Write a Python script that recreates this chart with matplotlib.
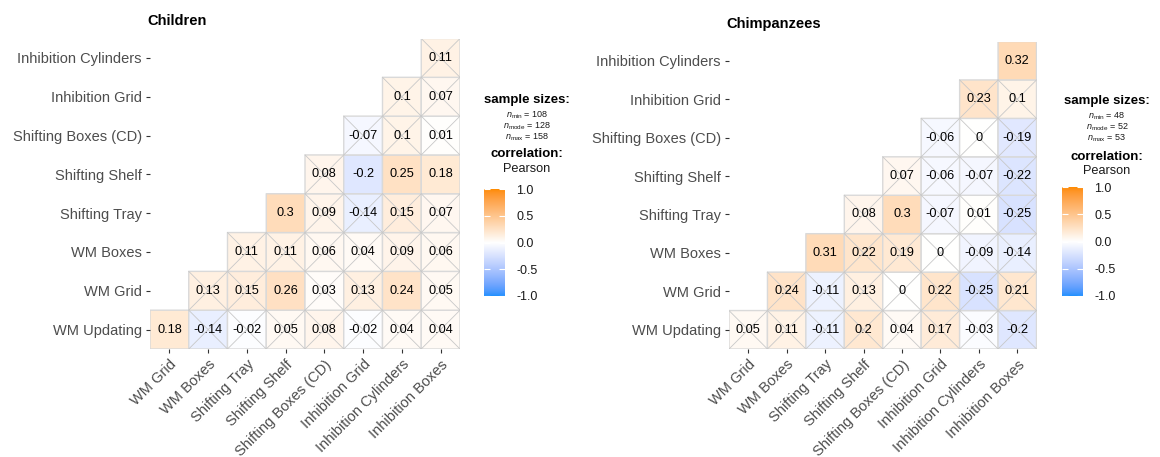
import numpy as np
import matplotlib.pyplot as plt
from matplotlib.colors import ListedColormap, to_rgb

plt.rcParams['font.family'] = ['Liberation Sans', 'DejaVu Sans']
plt.rcParams['mathtext.fontset'] = 'custom'
plt.rcParams['mathtext.rm'] = 'Liberation Sans'
plt.rcParams['mathtext.it'] = 'Liberation Sans:italic'

# ---------------- data ----------------
row_labels = ["WM Updating", "WM Grid", "WM Boxes", "Shifting Tray", "Shifting Shelf",
              "Shifting Boxes (CD)", "Inhibition Grid", "Inhibition Cylinders"]
col_labels = ["WM Grid", "WM Boxes", "Shifting Tray", "Shifting Shelf",
              "Shifting Boxes (CD)", "Inhibition Grid", "Inhibition Cylinders", "Inhibition Boxes"]

# lower triangle, one list per row variable (columns from the diagonal onwards)
children_r = [
    [0.18, -0.14, -0.02, 0.05, 0.08, -0.02, 0.04, 0.04],
    [0.13, 0.15, 0.26, 0.03, 0.13, 0.24, 0.05],
    [0.11, 0.11, 0.06, 0.04, 0.09, 0.06],
    [0.3, 0.09, -0.14, 0.15, 0.07],
    [0.08, -0.2, 0.25, 0.18],
    [-0.07, 0.1, 0.01],
    [0.1, 0.07],
    [0.11],
]
# 1 = significant (p < .05), 0 = crossed out
children_sig = [
    [1, 0, 0, 0, 0, 0, 0, 0],
    [0, 0, 1, 0, 0, 1, 0],
    [0, 0, 0, 0, 0, 0],
    [1, 0, 0, 0, 0],
    [0, 1, 1, 1],
    [0, 0, 0],
    [0, 0],
    [0],
]
children_n = [108, 128, 158]  # min, mode, max

chimp_r = [
    [0.05, 0.11, -0.11, 0.2, 0.04, 0.17, -0.03, -0.2],
    [0.24, -0.11, 0.13, 0, 0.22, -0.25, 0.21],
    [0.31, 0.22, 0.19, 0, -0.09, -0.14],
    [0.08, 0.3, -0.07, 0.01, -0.25],
    [0.07, -0.06, -0.07, -0.22],
    [-0.06, 0, -0.19],
    [0.23, 0.1],
    [0.32],
]
chimp_sig = [
    [0, 0, 0, 0, 0, 0, 0, 0],
    [0, 0, 0, 0, 0, 0, 0],
    [1, 0, 0, 0, 0, 0],
    [0, 1, 0, 0, 0],
    [0, 0, 0, 0],
    [0, 0, 0],
    [0, 0],
    [1],
]
chimp_n = [48, 52, 53]

# ---------------- colour scale (Lab interpolation, like ggplot) ----------------
M_RGB2XYZ = np.array([[0.4124, 0.3576, 0.1805],
                      [0.2126, 0.7152, 0.0722],
                      [0.0193, 0.1192, 0.9505]])
WHITE_XYZ = np.array([0.95047, 1.0, 1.08883])


def to_lab(col):
    rgb = np.array(to_rgb(col))
    lin = np.where(rgb <= 0.04045, rgb / 12.92, ((rgb + 0.055) / 1.055) ** 2.4)
    xyz = M_RGB2XYZ @ lin / WHITE_XYZ
    f = np.where(xyz > 0.008856, np.cbrt(xyz), 7.787 * xyz + 16 / 116)
    return np.array([116 * f[1] - 16, 500 * (f[0] - f[1]), 200 * (f[1] - f[2])])


def from_lab(lab):
    fy = (lab[:, 0] + 16) / 116
    fx = fy + lab[:, 1] / 500
    fz = fy - lab[:, 2] / 200
    f = np.stack([fx, fy, fz], axis=1)
    xyz = np.where(f > 0.206893, f ** 3, (f - 16 / 116) / 7.787) * WHITE_XYZ
    lin = xyz @ np.linalg.inv(M_RGB2XYZ).T
    lin = np.clip(lin, 0, 1)
    rgb = np.where(lin <= 0.0031308, 12.92 * lin, 1.055 * lin ** (1 / 2.4) - 0.055)
    return np.clip(rgb, 0, 1)


lab_lo, lab_mid, lab_hi = to_lab("#1E90FF"), to_lab("white"), to_lab("#FF8C00")
v = np.linspace(-1, 1, 256)[:, None]
labs = np.where(v < 0, lab_mid + (-v) * (lab_lo - lab_mid), lab_mid + v * (lab_hi - lab_mid))
cmap = ListedColormap(from_lab(labs))

# ---------------- figure ----------------
fig = plt.figure(figsize=(11.6, 4.57), dpi=100)
W, H = 1160, 457


def px_axes(x0, y0, x1, y1):
    return fig.add_axes([x0 / W, 1 - y1 / H, (x1 - x0) / W, (y1 - y0) / H])


def draw_panel(ax, cax, r_rows, sig_rows, title, nvals, lx, ly):
    C = np.full((8, 8), np.nan)
    S = np.zeros((8, 8))
    for i, row in enumerate(r_rows):
        for k, val in enumerate(row):
            C[i, i + k] = val
            S[i, i + k] = sig_rows[i][k]
    edges = np.arange(9) - 0.5
    ax.pcolor(edges, edges, np.ma.masked_invalid(C), cmap=cmap, vmin=-1, vmax=1,
              edgecolors="#D9D9D9", linewidth=1.0)
    for i in range(8):
        for j in range(8):
            if np.isnan(C[i, j]):
                continue
            if not S[i, j]:
                ax.plot([j - 0.5, j + 0.5], [i - 0.5, i + 0.5], color="#C8C8C8", lw=0.6, zorder=2)
                ax.plot([j - 0.5, j + 0.5], [i + 0.5, i - 0.5], color="#C8C8C8", lw=0.6, zorder=2)
            ax.text(j, i, f"{C[i, j]:g}", ha="center", va="center", fontsize=9.2,
                    color="black", zorder=3)
    ax.set_xlim(-0.5, 7.5)
    ax.set_ylim(-0.5, 7.5)
    for s in ax.spines.values():
        s.set_visible(False)
    ax.set_xticks(range(8))
    ax.set_xticklabels(col_labels, rotation=45, ha="right", rotation_mode="anchor")
    ax.set_yticks(range(8))
    ax.set_yticklabels(row_labels)
    ax.tick_params(length=3, width=0.8, color="#333333", labelcolor="#4D4D4D",
                   labelsize=10.5, pad=3)
    ax.set_title(title, loc="left", fontweight="bold", fontsize=10.5, pad=10, x=-0.01)

    # legend
    fig.text(lx / W, 1 - ly[0] / H, "sample sizes:", ha="center", va="center",
             fontsize=9.5, fontweight="bold")
    for name, val, yy in zip(["min", "mode", "max"], nvals, ly[1:4]):
        fig.text(lx / W, 1 - yy / H, rf"$n_{{\mathrm{{{name}}}}}$ = {val}",
                 ha="center", va="center", fontsize=6.5, color="#1A1A1A")
    fig.text(lx / W, 1 - ly[4] / H, "correlation:", ha="center", va="center",
             fontsize=9.5, fontweight="bold")
    fig.text(lx / W, 1 - ly[5] / H, "Pearson", ha="center", va="center",
             fontsize=9.2, color="#1A1A1A")

    grad = np.linspace(-1, 1, 256)[:, None]
    cax.imshow(grad, cmap=cmap, vmin=-1, vmax=1, aspect="auto", origin="lower",
               extent=[0, 1, -1, 1])
    for s in cax.spines.values():
        s.set_visible(False)
    cax.set_xticks([])
    cax.set_yticks([-1, -0.5, 0, 0.5, 1])
    cax.set_yticklabels(["-1.0", "-0.5", "0.0", "0.5", "1.0"])
    cax.yaxis.tick_right()
    cax.tick_params(axis="y", left=True, right=True, direction="in", color="white",
                    length=4, width=0.8, labelsize=9, labelcolor="#1A1A1A", pad=8)


ax1 = px_axes(150, 38.5, 460, 349)
cax1 = px_axes(484, 189, 505, 296)
draw_panel(ax1, cax1, children_r, children_sig, "Children", children_n,
           527, [100, 115, 126, 137, 154, 169])

ax2 = px_axes(729, 41.5, 1036.5, 349)
cax2 = px_axes(1062, 187, 1083, 296)
draw_panel(ax2, cax2, chimp_r, chimp_sig, "Chimpanzees", chimp_n,
           1107, [101, 116, 127, 138, 157, 171])

fig.savefig("out.png", dpi=100)
